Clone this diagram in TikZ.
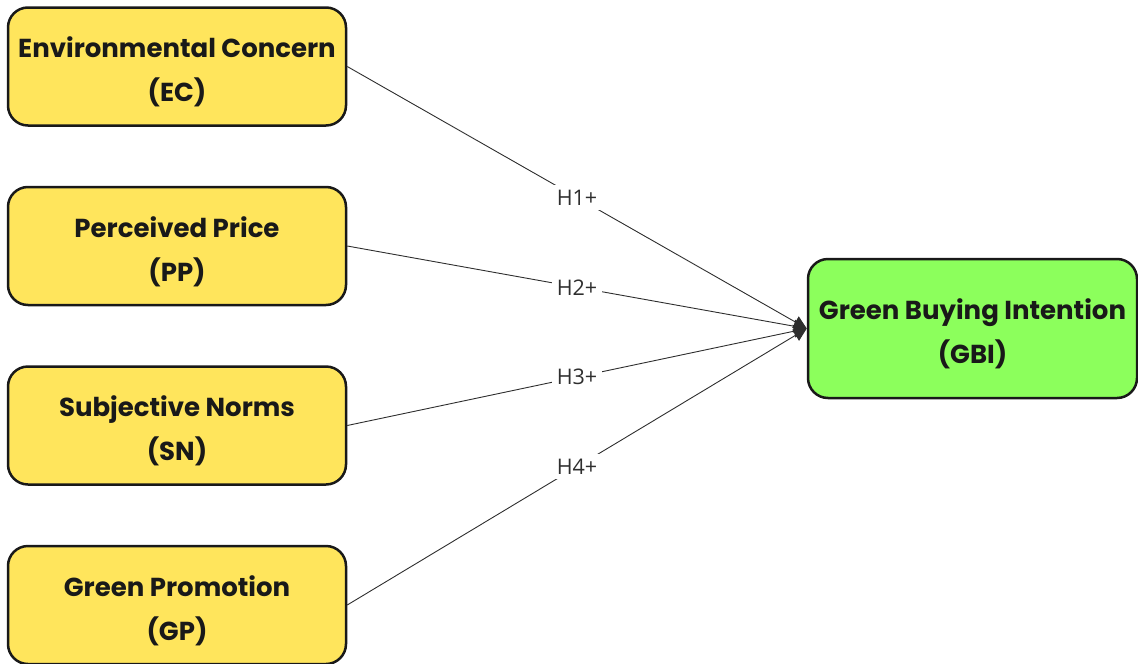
\documentclass[tikz,border=0pt]{standalone}
\usepackage{fontspec}
\setmainfont{Poppins}
\newfontfamily\hypfont{Open Sans}
\usetikzlibrary{arrows.meta}
\definecolor{factorYellow}{HTML}{FFE55C}
\definecolor{targetGreen}{HTML}{8CFF5C}
\definecolor{edgeGray}{HTML}{2E2E2E}
\newcommand\colorFactor{factorYellow}
\newcommand\colorTarget{targetGreen}
\newcommand\colorEdge{edgeGray}
\newcommand\factorPosX{177}
\newcommand\factorPosY{66.5}
\newcommand\factorDist{179.5}
% taller first line, pushes the text a bit below the box centre
\newcommand\topStrut{\rule{0pt}{32pt}}

\begin{document}
\begin{tikzpicture}[x=1pt,y=-1pt,
	factor/.style={draw=black!90, line width=2.5pt, rounded corners=20pt, fill=\colorFactor,
		minimum width=338pt, minimum height=118pt, inner sep=1pt, align=center,
		text=black!90, font=\bfseries\fontsize{26}{44}\selectfont},
	target/.style={factor, fill=\colorTarget, minimum width=329pt, minimum height=139pt},
	edge/.style={draw=\colorEdge, line width=0.9pt, -{Triangle[length=13pt,width=13pt]}},
	hyp/.style={fill=white, inner sep=5pt, text=\colorEdge, font=\hypfont\fontsize{21.5}{24}\selectfont}]
	\useasboundingbox (0,0) rectangle (1138,664);

	\node[target] (gbi) at (972.5,328.5) {\topStrut Green Buying Intention\\(GBI)};

	\foreach \name/\title/\short [count=\i] in {ec/Environmental Concern/EC, pp/Perceived Price/PP,
			sn/Subjective Norms/SN, gp/Green Promotion/GP}{
		\node[factor] (\name) at (\factorPosX, \factorPosY+\i*\factorDist-\factorDist) {\topStrut\title\\(\short)};
		\draw[edge] (\name.east) -- node[hyp] {H\i+} (gbi.west);
	}
\end{tikzpicture}
\end{document}
